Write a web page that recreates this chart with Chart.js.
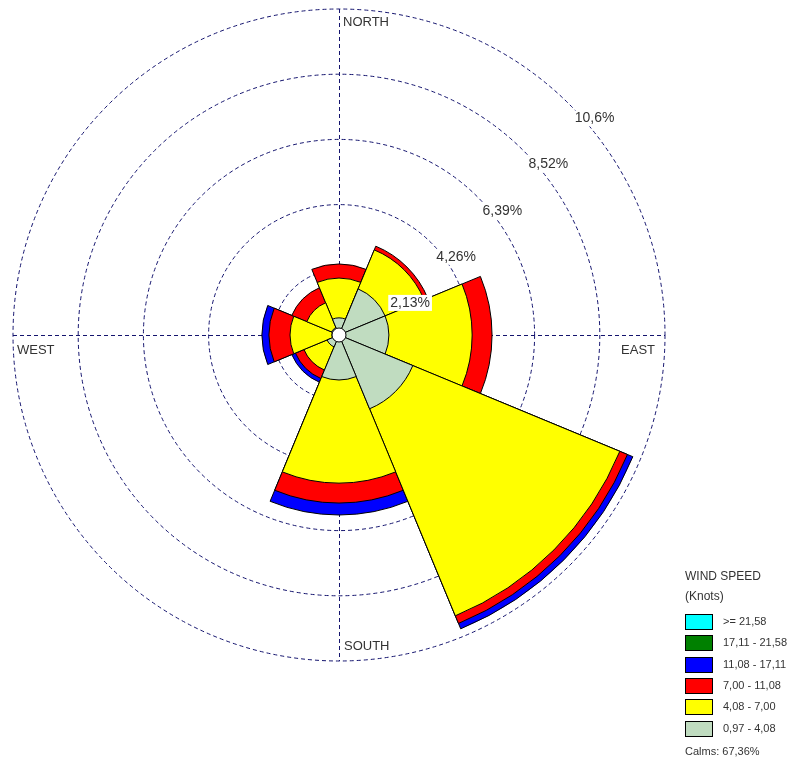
<!DOCTYPE html>
<html>
<head>
<meta charset="utf-8">
<script src="https://cdn.jsdelivr.net/npm/chart.js@4"></script>
<style>
  html, body { margin: 0; padding: 0; background: #fff; }
  #wrap { width: 800px; height: 770px; }
</style>
</head>
<body>
<div id="wrap"><canvas id="rosa"></canvas></div>
<script>
// directions, clockwise from north
const directions = ["N", "NE", "E", "SE", "S", "SW", "W", "NW"];

// frequency (%) of each speed class per direction
const speed097to408 = [0.56, 1.63, 1.63, 2.61, 1.47, 0.42, 0.23, 0.26];
const speed408to700 = [1.30, 1.38, 2.72, 7.32, 3.37, 0.82, 1.37, 0.88];
const speed700to1108 = [0.46, 0.13, 0.65, 0.27, 0.65, 0.30, 0.69, 0.53];
const speed1108to1711 = [0, 0, 0, 0.19, 0.39, 0.13, 0.23, 0];
const speed1711to2158 = [0, 0, 0, 0, 0, 0, 0, 0];
const speedOver2158 = [0, 0, 0, 0, 0, 0, 0, 0];

const ringValues = [2.13, 4.26, 6.39, 8.52, 10.65];
const ringLabels = ["2,13%", "4,26%", "6,39%", "8,52%", "10,6%"];

// slowest first
const classLabels = ["0,97 - 4,08", "4,08 - 7,00", "7,00 - 11,08", "11,08 - 17,11", "17,11 - 21,58", ">= 21,58"];
const classColors = ["#c0dcc0", "#ffff00", "#ff0000", "#0000ff", "#008000", "#00ffff"];
const classValues = [speed097to408, speed408to700, speed700to1108, speed1108to1711, speed1711to2158, speedOver2158];
const calmsText = "Calms: 67,36%";

// polar area has no stacking: draw cumulative wedges, the slowest on top
const running = directions.map(() => 0);
const datasets = classValues.map((vals, k) => {
  const cum = vals.map((v, i) => {
    running[i] += v;
    return v > 0 ? +running[i].toFixed(3) : 0;
  });
  return {
    label: classLabels[k],
    data: cum,
    backgroundColor: classColors[k],
    borderColor: "#000",
    borderWidth: 1
  };
});

const FONT = "'Liberation Sans', Arial, sans-serif";
const GRID = "#14146e";

const rosePlugin = {
  id: "rose",
  beforeDatasetsDraw(chart) {
    const s = chart.scales.r;
    const ctx = chart.ctx;
    const R = s.drawingArea;
    ctx.save();
    ctx.strokeStyle = GRID;
    ctx.lineWidth = 1;
    ctx.setLineDash([4, 3]);
    ctx.beginPath();
    ctx.moveTo(s.xCenter + 0.5, s.yCenter - R);
    ctx.lineTo(s.xCenter + 0.5, s.yCenter + R);
    ctx.moveTo(s.xCenter - R, s.yCenter + 0.5);
    ctx.lineTo(s.xCenter + R, s.yCenter + 0.5);
    ctx.stroke();
    ctx.restore();
  },
  afterDatasetsDraw(chart) {
    const s = chart.scales.r;
    const ctx = chart.ctx;
    const cx = s.xCenter, cy = s.yCenter, R = s.drawingArea;
    ctx.save();
    // calms circle
    ctx.beginPath();
    ctx.arc(cx, cy, 7, 0, Math.PI * 2);
    ctx.fillStyle = "#fff";
    ctx.fill();
    ctx.strokeStyle = "#000";
    ctx.lineWidth = 1;
    ctx.stroke();

    // ring labels
    ctx.font = "14px " + FONT;
    ctx.textAlign = "center";
    ctx.textBaseline = "middle";
    ringValues.forEach((v, i) => {
      const d = s.getDistanceFromCenterForValue(v);
      const x = cx + d * Math.SQRT1_2 + 25;
      const y = cy - d * Math.SQRT1_2 + 14;
      const w = ctx.measureText(ringLabels[i]).width;
      ctx.fillStyle = "#fff";
      ctx.fillRect(x - w / 2 - 2, y - 8, w + 4, 16);
      ctx.fillStyle = "#333";
      ctx.fillText(ringLabels[i], x, y);
    });

    // compass labels
    ctx.font = "13px " + FONT;
    ctx.fillStyle = "#333";
    ctx.textAlign = "left";
    ctx.fillText("NORTH", cx + 4, cy - R + 13);
    ctx.fillText("SOUTH", cx + 5, cy + R - 15);
    ctx.fillText("WEST", cx - R + 4, cy + 15);
    ctx.textAlign = "right";
    ctx.fillText("EAST", cx + R - 10, cy + 15);
    ctx.restore();
  },
  afterDraw(chart) {
    const ctx = chart.ctx;
    const x0 = 685;
    ctx.save();
    ctx.fillStyle = "#333";
    ctx.textBaseline = "middle";
    ctx.textAlign = "left";
    ctx.font = "12px " + FONT;
    ctx.fillText("WIND SPEED", x0, 577);
    ctx.fillText("(Knots)", x0, 597);
    ctx.font = "11px " + FONT;
    for (let i = 0; i < classLabels.length; i++) {
      const k = classLabels.length - 1 - i;
      const y = 622 + i * 21.3;
      ctx.fillStyle = classColors[k];
      ctx.fillRect(x0 + 0.5, Math.round(y - 8) + 0.5, 27, 15);
      ctx.strokeStyle = "#000";
      ctx.lineWidth = 1;
      ctx.strokeRect(x0 + 0.5, Math.round(y - 8) + 0.5, 27, 15);
      ctx.fillStyle = "#333";
      ctx.fillText(classLabels[k], x0 + 38, y);
    }
    ctx.fillText(calmsText, x0, 752);
    ctx.restore();
  }
};

new Chart(document.getElementById("rosa").getContext("2d"), {
  type: "polarArea",
  data: { labels: directions, datasets: datasets },
  options: {
    responsive: true,
    maintainAspectRatio: false,
    animation: false,
    layout: { padding: { left: 13, top: 9, right: 135, bottom: 109 } },
    plugins: {
      legend: { display: false },
      tooltip: { enabled: false }
    },
    scales: {
      r: {
        min: 0,
        max: 10.65,
        startAngle: -22.5,
        afterBuildTicks: (s) => {
          s.ticks = [0].concat(ringValues).map((v) => ({ value: v }));
        },
        ticks: { display: false },
        grid: { color: GRID, lineWidth: 1, circular: true },
        border: { dash: [4, 3] },
        angleLines: { display: false },
        pointLabels: { display: false }
      }
    }
  },
  plugins: [rosePlugin]
});
</script>
</body>
</html>
